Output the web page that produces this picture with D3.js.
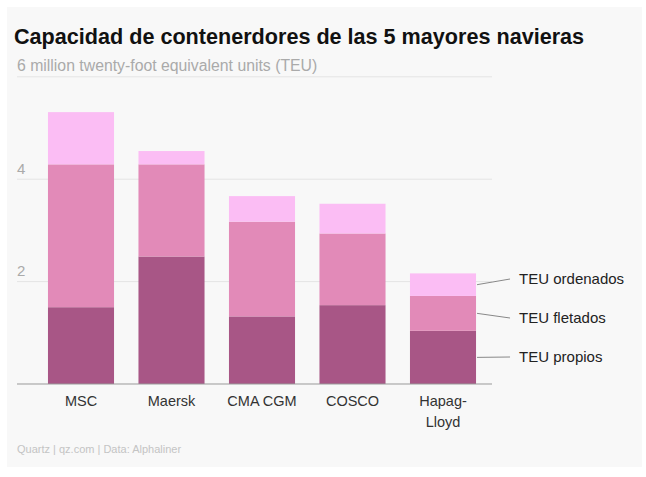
<!DOCTYPE html>
<html>
<head>
<meta charset="utf-8">
<script src="https://cdn.jsdelivr.net/npm/d3@7"></script>
<style>
  body { margin: 0; background: #fff; }
  text { font-family: "Liberation Sans", Arial, sans-serif; }
</style>
</head>
<body>
<div id="chart"></div>
<script>
const companies = ["MSC", "Maersk", "CMA CGM", "COSCO", "Hapag-Lloyd"];
const propios   = [1.50, 2.49, 1.32, 1.54, 1.04];
const fletados  = [2.79, 1.80, 1.85, 1.40, 0.68];
const ordenados = [1.02, 0.26, 0.50, 0.58, 0.44];
const seriesKeys = ["propios", "fletados", "ordenados"];
const seriesNames = ["TEU propios", "TEU fletados", "TEU ordenados"];
const yTicks = [2, 4, 6];

const width = 646, height = 477;
const colors = {propios: "#a85686", fletados: "#e28ab8", ordenados: "#fbbdf4"};

const svg = d3.select("#chart").append("svg")
    .attr("width", width)
    .attr("height", height);

svg.append("rect")
    .attr("x", 7).attr("y", 7)
    .attr("width", 635).attr("height", 460)
    .attr("fill", "#f8f8f8");

const rows = companies.map((c, i) => ({
    company: c, propios: propios[i], fletados: fletados[i], ordenados: ordenados[i]
}));
const stacked = d3.stack().keys(seriesKeys)(rows);

const x = d3.scaleBand()
    .domain(companies)
    .range([35.75, 488.25])
    .paddingInner(0.27)
    .paddingOuter(0.135);

const y = d3.scaleLinear()
    .domain([0, 6])
    .range([384, 76.8]);

// gridlines
svg.append("g")
    .selectAll("line")
    .data(yTicks)
    .join("line")
    .attr("x1", 17).attr("x2", 492)
    .attr("y1", d => y(d)).attr("y2", d => y(d))
    .attr("stroke", "#e4e4e4")
    .attr("stroke-width", 1);

// tick labels (top one merged with unit)
svg.append("g")
    .selectAll("text")
    .data(yTicks)
    .join("text")
    .attr("x", 17)
    .attr("y", d => y(d) - 5.5)
    .attr("fill", "#aaa")
    .attr("font-size", d => d === 6 ? 15.8 : 15)
    .text(d => d === 6 ? "6 million twenty-foot equivalent units (TEU)" : d);

// bars
svg.append("g")
    .selectAll("g")
    .data(stacked)
    .join("g")
    .attr("fill", d => colors[d.key])
    .selectAll("rect")
    .data(d => d)
    .join("rect")
    .attr("x", d => x(d.data.company))
    .attr("width", x.bandwidth())
    .attr("y", d => y(d[1]))
    .attr("height", d => y(d[0]) - y(d[1]));

// baseline axis
const xAxis = svg.append("g")
    .attr("transform", `translate(0,${y(0)})`)
    .call(d3.axisBottom(x).tickSize(0).tickPadding(12));
xAxis.select(".domain").remove();
xAxis.append("line")
    .attr("x1", 17).attr("x2", 492)
    .attr("stroke", "#999").attr("stroke-width", 1);
xAxis.selectAll(".tick text")
    .attr("font-size", 14.5)
    .attr("fill", "#333")
    .attr("font-family", "'Liberation Sans', Arial, sans-serif")
    .each(function(d) {
        const parts = d.split("-");
        if (parts.length > 1) {
            const t = d3.select(this).text(null);
            t.append("tspan").attr("x", 0).text(parts[0] + "-");
            t.append("tspan").attr("x", 0).attr("dy", "1.45em").text(parts[1]);
        }
    });

// legend labels attached to last bar
const last = companies.length - 1;
const labelY = [357, 318, 279];
const barRight = x(companies[last]) + x.bandwidth();
stacked.forEach((s, i) => {
    const seg = s[last];
    const mid = (y(seg[0]) + y(seg[1])) / 2;
    svg.append("line")
        .attr("x1", barRight + 1).attr("y1", mid)
        .attr("x2", barRight + 34).attr("y2", labelY[i])
        .attr("stroke", "#888").attr("stroke-width", 1);
    svg.append("text")
        .attr("x", barRight + 43)
        .attr("y", labelY[i])
        .attr("dy", "0.35em")
        .attr("font-size", 15)
        .attr("fill", "#222")
        .text(seriesNames[i]);
});

// title
svg.append("text")
    .attr("x", 14).attr("y", 44)
    .attr("font-size", 21.6)
    .attr("font-weight", "bold")
    .attr("fill", "#111")
    .text("Capacidad de contenerdores de las 5 mayores navieras");

// footer
svg.append("text")
    .attr("x", 17).attr("y", 453)
    .attr("font-size", 11)
    .attr("fill", "#c4c4c4")
    .text("Quartz | qz.com | Data: Alphaliner");
</script>
</body>
</html>
